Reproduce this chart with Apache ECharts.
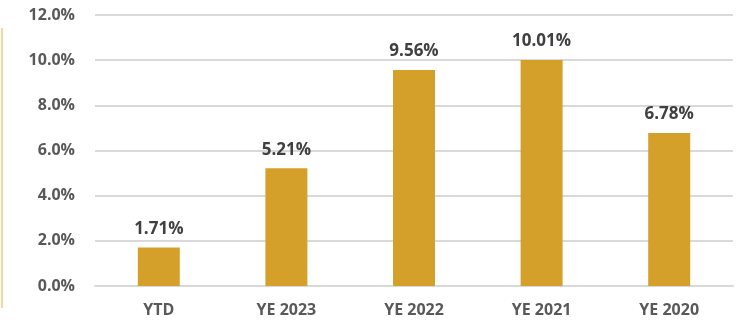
<!DOCTYPE html>
<html>
<head>
<meta charset="utf-8">
<script src="https://cdn.jsdelivr.net/npm/echarts@6/dist/echarts.min.js"></script>
<style>
  html, body { margin: 0; padding: 0; background: #fff; }
  #chart { width: 742px; height: 325px; }
</style>
</head>
<body>
<div id="chart"></div>
<script>
// 数据
const categories = ['YTD', 'YE 2023', 'YE 2022', 'YE 2021', 'YE 2020'];
const returns = [1.71, 5.21, 9.56, 10.01, 6.78];

const chart = echarts.init(document.getElementById('chart'));

const optionData = {
  animation: false,
  textStyle: { fontFamily: 'Open Sans' },
  graphic: [{
    type: 'rect',
    shape: { x: 1, y: 28, width: 2, height: 280 },
    style: { fill: '#f3d9a0' }
  }],
  grid: { left: 95, right: 9, top: 15, bottom: 39 },
  xAxis: {
    type: 'category',
    data: categories,
    axisLine: { lineStyle: { color: '#d9d9d9', width: 2 } },
    axisTick: { show: false },
    axisLabel: { color: '#595959', fontWeight: 'bold', fontSize: 16, margin: 16 }
  },
  yAxis: {
    type: 'value',
    min: 0,
    max: 12,
    interval: 2,
    axisLabel: {
      color: '#595959', fontWeight: 'bold', fontSize: 16, margin: 20,
      formatter: v => v.toFixed(1) + '%'
    },
    splitLine: { lineStyle: { color: '#d9d9d9', width: 2 } }
  },
  series: [{
    type: 'bar',
    data: returns,
    barWidth: 42,
    itemStyle: { color: '#d4a02a' },
    label: {
      show: true,
      position: 'top',
      distance: 10,
      color: '#404040',
      fontWeight: 'bold',
      fontSize: 17,
      formatter: p => p.value.toFixed(2) + '%'
    }
  }]
};

chart.setOption(optionData);
</script>
</body>
</html>
